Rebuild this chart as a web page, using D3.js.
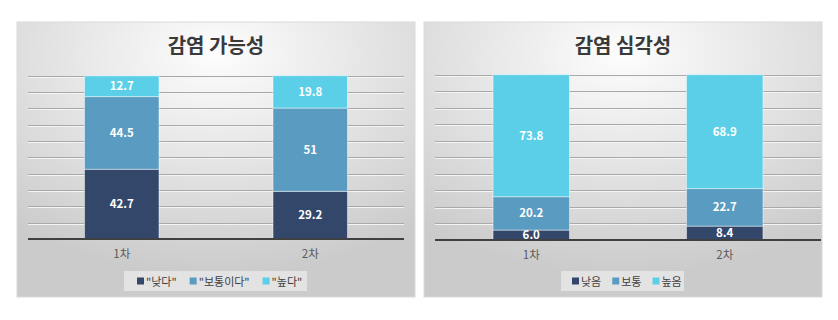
<!DOCTYPE html>
<html>
<head>
<meta charset="utf-8">
<script src="https://cdn.jsdelivr.net/npm/d3@7"></script>
<style>
  body { margin: 0; background: #fff; }
  svg { display: block; font-family: "Noto Sans CJK KR", "Noto Sans", sans-serif; }
</style>
</head>
<body>
<svg id="chart" width="838" height="320"></svg>
<script>
// 데이터
var categories = ["1차", "2차"];
var colors = ["#33476b", "#5a9bc1", "#5bcfe7"];

var leftTitle = "감염 가능성";
var leftSeries = ["\"낮다\"", "\"보통이다\"", "\"높다\""];
var leftValues = [
  [42.7, 29.2],
  [44.5, 51],
  [12.7, 19.8],
];
var leftLabels = [
  ["42.7", "29.2"],
  ["44.5", "51"],
  ["12.7", "19.8"],
];

var rightTitle = "감염 심각성";
var rightSeries = ["낮음", "보통", "높음"];
var rightValues = [
  [6.0, 8.4],
  [20.2, 22.7],
  [73.8, 68.9],
];
var rightLabels = [
  ["6.0", "8.4"],
  ["20.2", "22.7"],
  ["73.8", "68.9"],
];

var yTicks = [0, 10, 20, 30, 40, 50, 60, 70, 80, 90, 100];

var svg = d3.select("#chart");
var defs = svg.append("defs");
var grad = defs.append("radialGradient")
  .attr("id", "bg")
  .attr("cx", "50%").attr("cy", "12%").attr("r", "80%");
grad.append("stop").attr("offset", "0%").attr("stop-color", "#fdfdfd");
grad.append("stop").attr("offset", "100%").attr("stop-color", "#cbcbcb");

// 패널 하나를 그린다
function drawPanel(opt) {
  var g = svg.append("g").attr("transform", `translate(${opt.x},${opt.y})`);
  g.append("rect")
    .attr("x", 0).attr("y", 0)
    .attr("width", opt.w).attr("height", opt.h)
    .attr("fill", "url(#bg)")
    .attr("stroke", "#d9d9d9");

  g.append("text")
    .attr("x", opt.w / 2).attr("y", 31)
    .attr("text-anchor", "middle")
    .attr("font-size", 20).attr("font-weight", "bold")
    .attr("fill", "#3a3a3a")
    .text(opt.title);

  var x = d3.scaleBand().domain(categories)
    .range([opt.plotL, opt.plotR]).paddingInner(0.605).paddingOuter(0.3);
  var y = d3.scaleLinear().domain([0, 100]).range([opt.base, opt.top]);

  // 눈금선
  g.selectAll(".grid").data(yTicks.slice(1)).enter().append("line")
    .attr("x1", opt.plotL).attr("x2", opt.plotR)
    .attr("y1", (d) => Math.round(y(d)) + 0.5).attr("y2", (d) => Math.round(y(d)) + 0.5)
    .attr("stroke", "#a9a9a9").attr("stroke-width", 1);
  g.selectAll(".gridw").data(yTicks.slice(1)).enter().append("line")
    .attr("x1", opt.plotL).attr("x2", opt.plotR)
    .attr("y1", (d) => Math.round(y(d)) + 1.5).attr("y2", (d) => Math.round(y(d)) + 1.5)
    .attr("stroke", "#f4f4f4").attr("stroke-width", 1);

  // 누적 막대
  var rows = categories.map((c, i) => {
    var r = { cat: c };
    opt.values.forEach((s, k) => { r["s" + k] = s[i]; });
    return r;
  });
  var stack = d3.stack().keys(opt.values.map((s, k) => "s" + k))(rows);
  stack.forEach((layer, k) => {
    g.selectAll(".bar" + k).data(layer).enter().append("rect")
      .attr("x", (d) => x(d.data.cat))
      .attr("width", x.bandwidth())
      .attr("y", (d) => y(d[1]))
      .attr("height", (d) => y(d[0]) - y(d[1]))
      .attr("fill", colors[k])
      .attr("stroke", "rgba(255,255,255,0.45)")
      .attr("stroke-width", 1);
    g.selectAll(".lab" + k).data(layer).enter().append("text")
      .attr("x", (d) => x(d.data.cat) + x.bandwidth() / 2)
      .attr("y", (d) => (y(d[0]) + y(d[1])) / 2 + 4)
      .attr("text-anchor", "middle")
      .attr("font-size", 11.5).attr("font-weight", "bold")
      .attr("fill", "#ffffff")
      .text((d, i) => opt.labels[k][i]);
  });

  // 기준선
  g.append("line")
    .attr("x1", opt.plotL).attr("x2", opt.plotR)
    .attr("y1", y(0)).attr("y2", y(0))
    .attr("stroke", "#404040").attr("stroke-width", 2);

  // x축 라벨
  var xAxis = d3.axisBottom(x).tickSize(0).tickPadding(11);
  var ax = g.append("g").attr("transform", `translate(0,${y(0)})`).call(xAxis);
  ax.select(".domain").remove();
  ax.selectAll("text")
    .attr("font-size", 11.5).attr("fill", "#595959")
    .attr("font-family", "\"Noto Sans CJK KR\", sans-serif");

  // 범례
  var lg = g.append("g").attr("transform", `translate(${opt.legX},${opt.legY})`);
  lg.append("rect").attr("x", 0).attr("y", 0)
    .attr("width", opt.legW).attr("height", 20)
    .attr("fill", "#e8e8e8").attr("opacity", 0.8);
  var cx = opt.legPad;
  opt.series.forEach((s, k) => {
    lg.append("rect").attr("x", cx).attr("y", 6.5).attr("width", 7).attr("height", 7)
      .attr("fill", colors[k]);
    var t = lg.append("text").attr("x", cx + 9).attr("y", 14.5)
      .attr("font-size", 11).attr("fill", "#404040").text(s);
    cx += 9 + t.node().getComputedTextLength() + opt.legGap;
  });
}

drawPanel({
  x: 17, y: 22, w: 398, h: 275,
  title: leftTitle, series: leftSeries, values: leftValues, labels: leftLabels,
  plotL: 11, plotR: 387, top: 53.7, base: 217,
  legX: 107, legY: 249, legW: 183, legPad: 13, legGap: 13,
});
drawPanel({
  x: 424, y: 22, w: 398, h: 275,
  title: rightTitle, series: rightSeries, values: rightValues, labels: rightLabels,
  plotL: 11, plotR: 397, top: 52.7, base: 218,
  legX: 137, legY: 249, legW: 123, legPad: 11, legGap: 11,
});
</script>
</body>
</html>
